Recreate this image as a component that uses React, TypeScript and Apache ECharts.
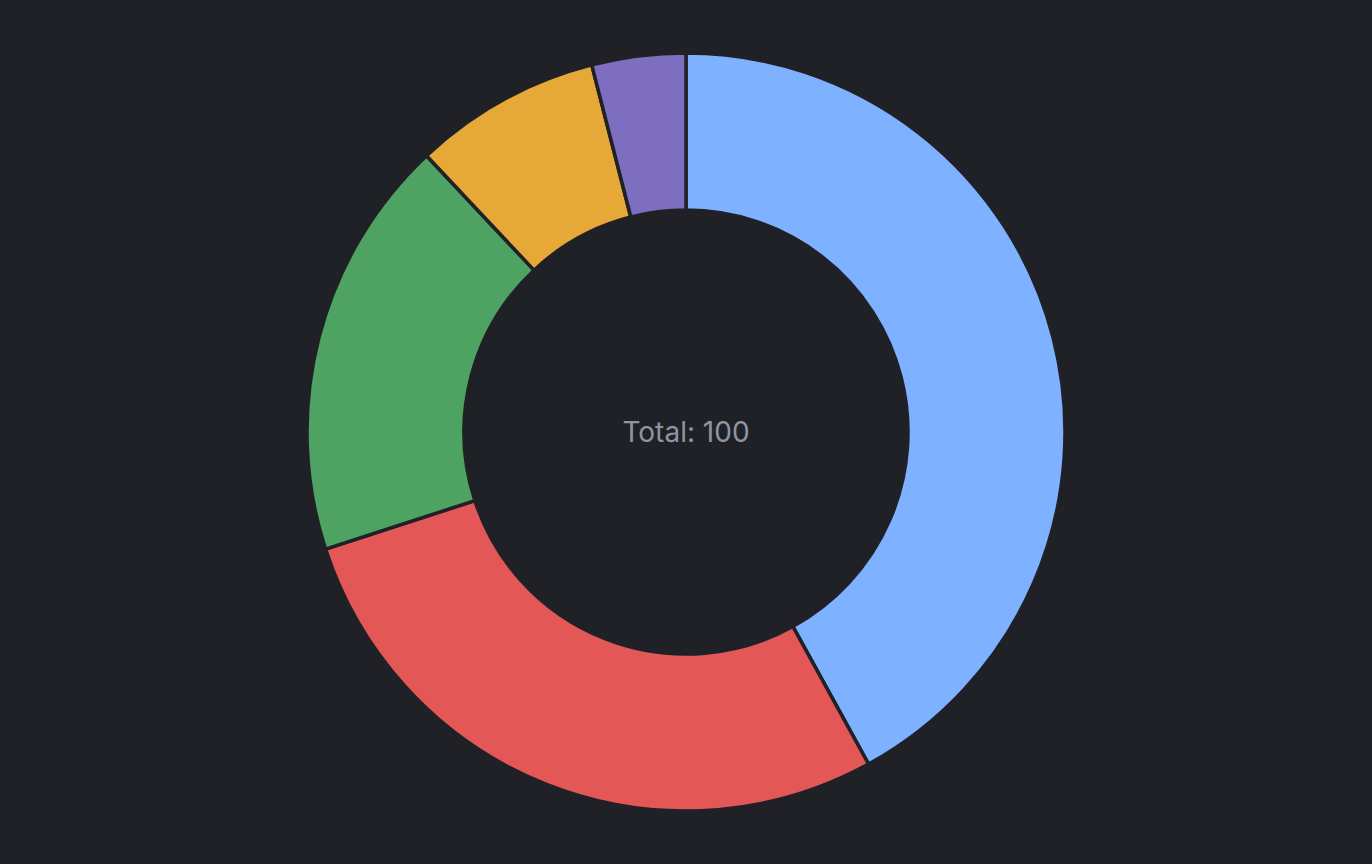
import React, { useEffect, useRef } from "react";
import * as echarts from "echarts";

const categories = ["A", "B", "C", "D", "E"];
const values = [42, 28, 18, 8, 4];
const colors = ["#7eb1ff", "#e35757", "#4fa362", "#e6a837", "#7e6ec0"];
const total = values.reduce((a, b) => a + b, 0);

export default function App() {
  const ref = useRef<HTMLDivElement>(null);
  useEffect(() => {
    document.body.style.margin = "0";
    document.body.style.background = "#202127";
    const chart = echarts.init(ref.current!, null, { renderer: "svg" });
    chart.setOption({
      animation: false,
      backgroundColor: "#202127",
      title: {
        text: `Total: ${total}`,
        left: "center",
        top: "middle",
        textStyle: {
          color: "#8e96a3",
          fontSize: 28,
          fontWeight: "normal",
          fontFamily: "Inter",
        },
      },
      series: [
        {
          type: "pie",
          center: ["50%", "50%"],
          radius: [222, 379],
          startAngle: 90,
          clockwise: true,
          label: { show: false },
          labelLine: { show: false },
          itemStyle: { borderColor: "#202127", borderWidth: 3.5 },
          data: categories.map((c, i) => ({
            name: c,
            value: values[i],
            itemStyle: { color: colors[i] },
          })),
        },
      ],
    });
    return () => chart.dispose();
  }, []);
  return (
    <div
      ref={ref}
      style={{ width: 1372, height: 864, background: "#202127", borderRadius: 10 }}
    />
  );
}
